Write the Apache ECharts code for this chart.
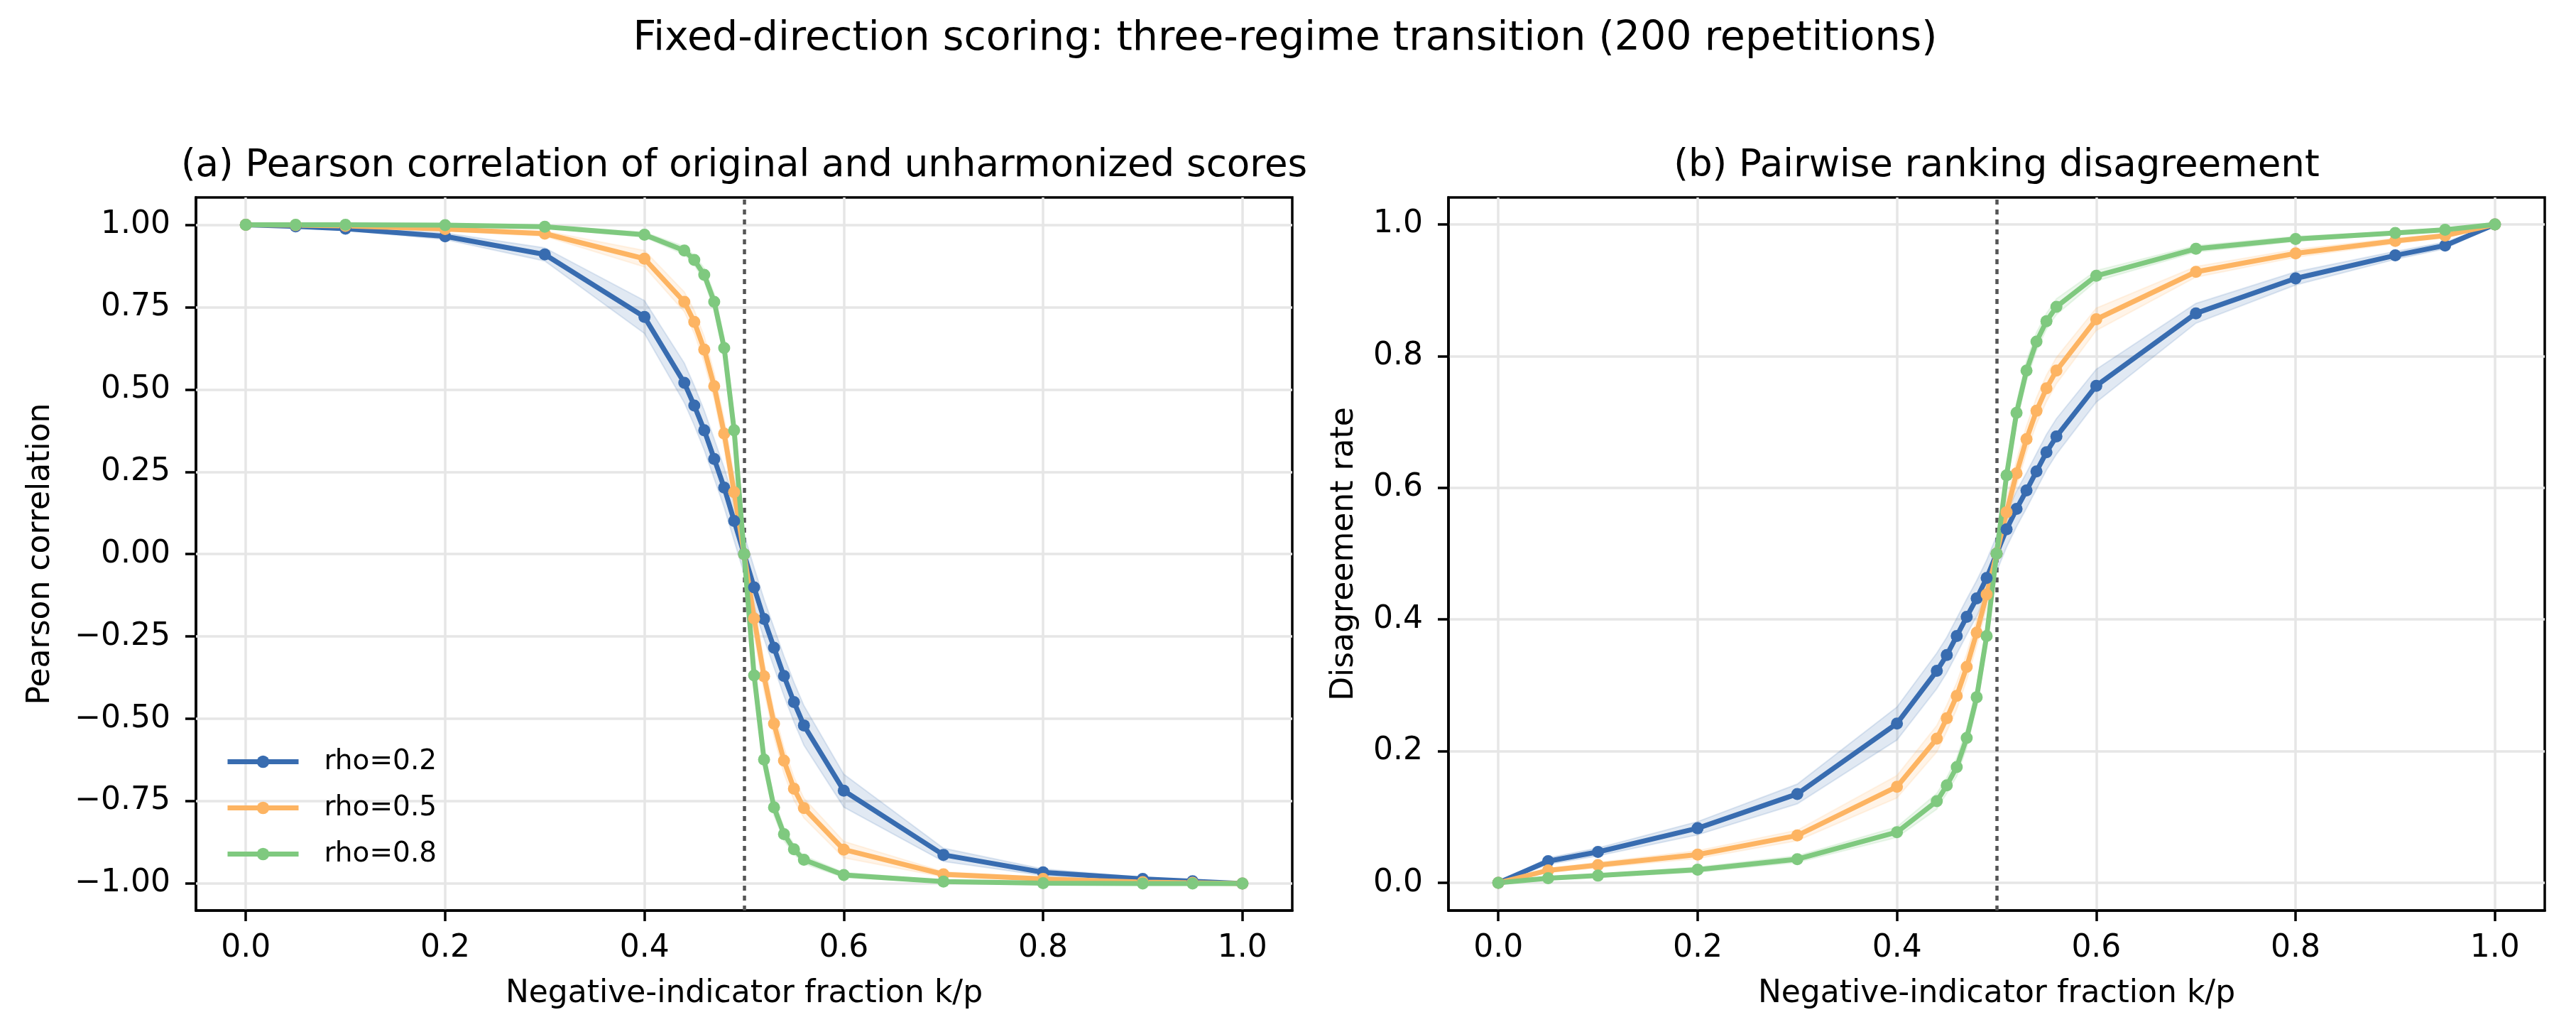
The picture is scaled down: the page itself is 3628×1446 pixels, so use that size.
<!DOCTYPE html>
<html>
<head>
<meta charset="utf-8">
<script src="https://cdn.jsdelivr.net/npm/echarts@6/dist/echarts.min.js"></script>
<style>
html,body{margin:0;padding:0;background:#fff}
#chart{width:3628px;height:1446px}
</style>
</head>
<body>
<div id="chart"></div>
<script>
// k/p values
var xs = [0, 0.05, 0.1, 0.2, 0.3, 0.4, 0.44, 0.45, 0.46, 0.47, 0.48, 0.49, 0.5,
          0.51, 0.52, 0.53, 0.54, 0.55, 0.56, 0.6, 0.7, 0.8, 0.9, 0.95, 1.0];

// (a) pearson correlation, mean over repetitions
var corr02 = [1.0, 0.995, 0.988, 0.965, 0.910, 0.720, 0.520, 0.451, 0.376, 0.289, 0.202, 0.101, 0.0,
              -0.101, -0.197, -0.284, -0.370, -0.449, -0.520, -0.718, -0.913, -0.966, -0.986, -0.993, -1.0];
var corr05 = [1.0, 0.999, 0.997, 0.987, 0.973, 0.897, 0.766, 0.705, 0.621, 0.510, 0.366, 0.188, 0.0,
              -0.195, -0.371, -0.515, -0.627, -0.712, -0.771, -0.897, -0.972, -0.986, -0.996, -0.998, -1.0];
var corr08 = [1.0, 1.0, 1.0, 0.999, 0.994, 0.970, 0.922, 0.893, 0.848, 0.766, 0.626, 0.376, 0.0,
              -0.368, -0.624, -0.769, -0.850, -0.896, -0.928, -0.974, -0.994, -0.999, -1.0, -1.0, -1.0];
// band half widths
var corrBand02 = [0, 0.003, 0.005, 0.01, 0.02, 0.05, 0.06, 0.06, 0.06, 0.06, 0.06, 0.06, 0.06,
                  0.06, 0.06, 0.06, 0.06, 0.06, 0.06, 0.05, 0.02, 0.01, 0.005, 0.003, 0];
var corrBand05 = [0, 0.001, 0.002, 0.005, 0.008, 0.025, 0.03, 0.035, 0.04, 0.04, 0.045, 0.05, 0.05,
                  0.05, 0.045, 0.04, 0.04, 0.035, 0.03, 0.025, 0.008, 0.005, 0.002, 0.001, 0];
var corrBand08 = [0, 0, 0, 0.001, 0.003, 0.008, 0.012, 0.015, 0.02, 0.025, 0.03, 0.04, 0.04,
                  0.04, 0.03, 0.025, 0.02, 0.015, 0.012, 0.008, 0.003, 0.001, 0, 0, 0];

// (b) pairwise disagreement rate
var dis02 = [0, 0.033, 0.047, 0.083, 0.135, 0.242, 0.322, 0.346, 0.375, 0.404, 0.432, 0.463, 0.5,
             0.537, 0.568, 0.596, 0.625, 0.654, 0.678, 0.755, 0.865, 0.918, 0.953, 0.968, 1.0];
var dis05 = [0, 0.019, 0.027, 0.043, 0.072, 0.146, 0.219, 0.250, 0.284, 0.328, 0.380, 0.438, 0.5,
             0.563, 0.622, 0.674, 0.717, 0.751, 0.778, 0.856, 0.928, 0.956, 0.975, 0.983, 1.0];
var dis08 = [0, 0.007, 0.011, 0.020, 0.036, 0.077, 0.124, 0.148, 0.176, 0.220, 0.282, 0.375, 0.5,
             0.619, 0.714, 0.778, 0.822, 0.853, 0.875, 0.922, 0.963, 0.978, 0.987, 0.992, 1.0];
var disBand02 = [0, 0.005, 0.006, 0.01, 0.015, 0.025, 0.027, 0.027, 0.027, 0.027, 0.027, 0.027, 0.027,
                 0.027, 0.027, 0.027, 0.027, 0.027, 0.027, 0.025, 0.015, 0.01, 0.006, 0.005, 0];
var disBand05 = [0, 0.003, 0.004, 0.006, 0.008, 0.017, 0.02, 0.02, 0.02, 0.02, 0.02, 0.02, 0.02,
                 0.02, 0.02, 0.02, 0.02, 0.02, 0.02, 0.017, 0.008, 0.006, 0.004, 0.003, 0];
var disBand08 = [0, 0.002, 0.002, 0.004, 0.005, 0.008, 0.012, 0.012, 0.014, 0.015, 0.015, 0.015, 0.015,
                 0.015, 0.015, 0.015, 0.014, 0.012, 0.012, 0.008, 0.005, 0.004, 0.002, 0.002, 0];

var xTicks = [0, 0.2, 0.4, 0.6, 0.8, 1.0];
var corrTicks = [-1, -0.75, -0.5, -0.25, 0, 0.25, 0.5, 0.75, 1];
var disTicks = [0, 0.2, 0.4, 0.6, 0.8, 1.0];
var names = ['rho=0.2', 'rho=0.5', 'rho=0.8'];
var colors = ['#386cb0', '#fdb462', '#7fc97f'];

var FONT = 'DejaVu Sans';
var chart = echarts.init(document.getElementById('chart'));

function pairs(ys) {
    return xs.map(function (x, i) { return [x, ys[i]]; });
}
function fmtMinus(s) { return s.replace('-', '\u2212'); }

// shaded band: one polygon (upper edge, then lower edge reversed) drawn through the axes
function band(mean, half, color, gi) {
    var rows = xs.map(function (x, i) { return [x, mean[i] - half[i], mean[i] + half[i]]; });
    return {
        type: 'custom', name: 'band', xAxisIndex: gi, yAxisIndex: gi,
        silent: true, z: 2, data: rows,
        encode: {x: 0, y: [1, 2]},
        renderItem: function (params, api) {
            if (params.dataIndex !== 0) return null;
            var pts = [];
            rows.forEach(function (r) { pts.push(api.coord([r[0], r[2]])); });
            for (var i = rows.length - 1; i >= 0; i--) pts.push(api.coord([rows[i][0], rows[i][1]]));
            return {
                type: 'polygon',
                shape: {points: pts},
                style: {fill: color, opacity: 0.15, stroke: color, lineWidth: 2}
            };
        }
    };
}
function mainLine(name, ys, color, gi, mark) {
    var s = {
        type: 'line', name: name, xAxisIndex: gi, yAxisIndex: gi, data: pairs(ys),
        symbol: 'circle', symbolSize: 17, z: 3,
        itemStyle: {color: color},
        lineStyle: {color: color, width: 7}
    };
    if (mark) s.markLine = mark;
    return s;
}

var gridLine = {color: '#e6e6e6', width: 3.5, type: 'solid'};
var dotLine = {color: '#555555', width: 4.5, type: [7, 7]};

// left panel: horizontal grid lines + dotted k/p = 0.5
var markA = {
    silent: true, symbol: 'none', label: {show: false}, animation: false, z: 1,
    data: corrTicks.map(function (v) { return {yAxis: v, lineStyle: gridLine}; })
        .concat([{xAxis: 0.5, lineStyle: dotLine}])
};
var markB = {
    silent: true, symbol: 'none', label: {show: false}, animation: false, z: 1,
    data: [{xAxis: 0.5, lineStyle: dotLine}]
};

function xAxisFor(gi) {
    return {
        type: 'value', gridIndex: gi, min: -0.05, max: 1.05, splitNumber: 5,
        name: 'Negative-indicator fraction k/p', nameLocation: 'middle', nameGap: 96,
        nameTextStyle: {fontSize: 44, color: '#000', fontFamily: FONT},
        axisLine: {show: true, onZero: false, lineStyle: {color: '#000', width: 3.5}},
        axisTick: {show: true, length: 15, customValues: xTicks, lineStyle: {color: '#000', width: 3.5}},
        axisLabel: {customValues: xTicks, fontSize: 44, color: '#000', fontFamily: FONT, margin: 32,
            formatter: function (v) { return v.toFixed(1); }},
        splitLine: {show: true, lineStyle: gridLine}
    };
}

var series = [
    band(corr02, corrBand02, colors[0], 0),
    band(corr05, corrBand05, colors[1], 0),
    band(corr08, corrBand08, colors[2], 0),
    band(dis02, disBand02, colors[0], 1),
    band(dis05, disBand05, colors[1], 1),
    band(dis08, disBand08, colors[2], 1),
    mainLine(names[0], corr02, colors[0], 0, markA),
    mainLine(names[1], corr05, colors[1], 0),
    mainLine(names[2], corr08, colors[2], 0),
    mainLine(names[0], dis02, colors[0], 1, markB),
    mainLine(names[1], dis05, colors[1], 1),
    mainLine(names[2], dis08, colors[2], 1)
];

var option = {
    animation: false,
    backgroundColor: '#ffffff',
    textStyle: {fontFamily: FONT},
    title: [
        {text: 'Fixed-direction scoring: three-regime transition (200 repetitions)',
         left: 1810, top: 27, textAlign: 'center', padding: 0,
         textStyle: {fontSize: 57, fontWeight: 'normal', color: '#000', fontFamily: FONT}},
        {text: '(a) Pearson correlation of original and unharmonized scores',
         left: 1048, top: 208, textAlign: 'center', padding: 0,
         textStyle: {fontSize: 53, fontWeight: 'normal', color: '#000', fontFamily: FONT}},
        {text: '(b) Pairwise ranking disagreement',
         left: 2812, top: 208, textAlign: 'center', padding: 0,
         textStyle: {fontSize: 53, fontWeight: 'normal', color: '#000', fontFamily: FONT}}
    ],
    legend: {
        data: names, orient: 'vertical', left: 317, top: 1053,
        itemWidth: 100, itemHeight: 22, itemGap: 26, padding: 0,
        lineStyle: {width: 7},
        textStyle: {fontSize: 39, color: '#000', fontFamily: FONT, padding: [0, 0, 0, 31]}
    },
    grid: [
        {left: 276, right: 1808, top: 278, bottom: 164, show: true, borderColor: '#000', borderWidth: 3.5},
        {left: 2040, right: 44, top: 278, bottom: 164, show: true, borderColor: '#000', borderWidth: 3.5}
    ],
    xAxis: [xAxisFor(0), xAxisFor(1)],
    yAxis: [
        {
            type: 'value', gridIndex: 0, min: -1.082, max: 1.083,
            name: 'Pearson correlation', nameLocation: 'middle', nameGap: 196,
            nameTextStyle: {fontSize: 44, color: '#000', fontFamily: FONT},
            axisLine: {show: true, onZero: false, lineStyle: {color: '#000', width: 3.5}},
            axisTick: {show: true, length: 15, customValues: corrTicks, lineStyle: {color: '#000', width: 3.5}},
            axisLabel: {customValues: corrTicks, fontSize: 44, color: '#000', fontFamily: FONT, margin: 36,
                formatter: function (v) { return fmtMinus(v.toFixed(2)); }},
            splitLine: {show: false}
        },
        {
            type: 'value', gridIndex: 1, min: -0.042, max: 1.041, splitNumber: 5,
            name: 'Disagreement rate', nameLocation: 'middle', nameGap: 124,
            nameTextStyle: {fontSize: 44, color: '#000', fontFamily: FONT},
            axisLine: {show: true, onZero: false, lineStyle: {color: '#000', width: 3.5}},
            axisTick: {show: true, length: 15, customValues: disTicks, lineStyle: {color: '#000', width: 3.5}},
            axisLabel: {customValues: disTicks, fontSize: 44, color: '#000', fontFamily: FONT, margin: 36,
                formatter: function (v) { return v.toFixed(1); }},
            splitLine: {show: true, lineStyle: gridLine}
        }
    ],
    series: series
};
chart.setOption(option);
</script>
</body>
</html>
